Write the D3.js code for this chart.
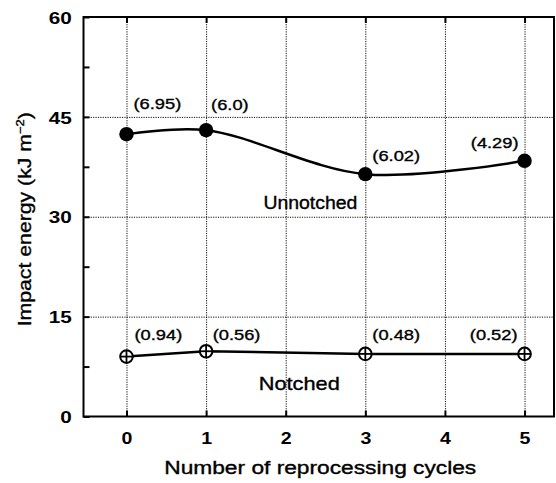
<!DOCTYPE html>
<html>
<head>
<meta charset="utf-8">
<script src="https://cdn.jsdelivr.net/npm/d3@7"></script>
<style>
  body { margin: 0; background: #fff; }
  svg { display: block; }
  text { font-family: "Liberation Sans", Arial, sans-serif; fill: #000; }
  text.reg { stroke: #000; stroke-width: 0.35px; }
</style>
</head>
<body>
<div id="chart"></div>
<script>
// data
const cycles      = [0, 1, 3, 5];
const unnotched   = [42.4, 43.0, 36.4, 38.4];
const notched     = [9.0, 9.8, 9.4, 9.4];
const unnotchedSD = ['(6.95)', '(6.0)', '(6.02)', '(4.29)'];
const notchedSD   = ['(0.94)', '(0.56)', '(0.48)', '(0.52)'];
const xTicks      = [0, 1, 2, 3, 4, 5];
const yTicks      = [0, 15, 30, 45, 60];
const yMinor      = [7.5, 22.5, 37.5, 52.5];
const yGrid       = [15, 30, 45];
const seriesNames = ['Unnotched', 'Notched'];

// layout
const W = 556, H = 483;
const L = 83.5, R = 554, T = 17, B = 416.5;

// label placement (px offsets from the point, anchor)
const unLabelPos = [[7, -25, 'start'], [5, -20.5, 'start'], [7, -13.5, 'start'], [-6, -12.5, 'end']];
const noLabelPos = [[8, 'start'], [6.6, 'start'], [7, 'start'], [-7, 'end']];
// series name placement in data units, target width, font size
const namePos = [[2.31, 31.1, 94, 17.5], [2.17, 4.0, 81, 18.5]];

const x = d3.scaleLinear().domain([-0.54, 5.37]).range([L, R]);
const y = d3.scaleLinear().domain([0, 60]).range([B, T]);

const svg = d3.select('#chart').append('svg')
  .attr('width', W).attr('height', H);

function stretch(sel, k) {
  sel.each(function () {
    const w = this.getComputedTextLength();
    d3.select(this).attr('textLength', w * k).attr('lengthAdjust', 'spacingAndGlyphs');
  });
}

// dotted grid
const dotted = g => g.selectAll('.tick line')
  .attr('stroke', '#111').attr('stroke-width', 1).attr('stroke-dasharray', '1.2,1.2');

svg.append('g')
  .attr('transform', `translate(0,${B})`)
  .call(d3.axisBottom(x).tickValues(xTicks).tickSize(-(B - T)).tickFormat(''))
  .call(g => g.select('.domain').remove())
  .call(dotted);

svg.append('g')
  .attr('transform', `translate(${L},0)`)
  .call(d3.axisLeft(y).tickValues(yGrid).tickSize(-(R - L)).tickFormat(''))
  .call(g => g.select('.domain').remove())
  .call(dotted);

// series lines
const pts = vals => cycles.map((c, i) => [x(c), y(vals[i])]);

svg.append('path')
  .attr('d', d3.line().curve(d3.curveCatmullRom.alpha(0.5))(pts(unnotched)))
  .attr('fill', 'none').attr('stroke', '#000').attr('stroke-width', 2.5);

svg.append('path')
  .attr('d', d3.line()(pts(notched)))
  .attr('fill', 'none').attr('stroke', '#000').attr('stroke-width', 2.5);

// markers
svg.append('g').selectAll('circle')
  .data(cycles)
  .join('circle')
  .attr('cx', d => x(d))
  .attr('cy', (d, i) => y(unnotched[i]))
  .attr('r', 7.2)
  .attr('fill', '#000');

const nm = svg.append('g').selectAll('g')
  .data(cycles)
  .join('g')
  .attr('transform', (d, i) => `translate(${x(d)},${y(notched[i])})`);
const r = 6.3;
nm.append('circle').attr('r', r).attr('fill', '#fff').attr('stroke', '#000').attr('stroke-width', 2);
nm.append('line').attr('x1', -r).attr('x2', r).attr('stroke', '#000').attr('stroke-width', 1.8);
nm.append('line').attr('y1', -r).attr('y2', r).attr('stroke', '#000').attr('stroke-width', 1.8);

// frame
svg.append('rect')
  .attr('x', L).attr('y', T).attr('width', R - L).attr('height', B - T)
  .attr('fill', 'none').attr('stroke', '#000').attr('stroke-width', 2);

// ticks
const solidTicks = g => {
  g.select('.domain').remove();
  g.selectAll('.tick line').attr('stroke', '#000').attr('stroke-width', 2);
};

const xAxis = svg.append('g')
  .attr('transform', `translate(0,${B})`)
  .call(d3.axisBottom(x).tickValues(xTicks).tickFormat(d3.format('d')).tickSizeInner(-6).tickSizeOuter(0))
  .call(solidTicks);
xAxis.selectAll('text')
  .attr('y', 27.5).attr('dy', 0)
  .style('font-size', '17px').style('font-weight', 'bold')
  .call(stretch, 1.15);

svg.append('g')
  .attr('transform', `translate(0,${T})`)
  .call(d3.axisTop(x).tickValues(xTicks).tickSizeInner(-6).tickSizeOuter(0).tickFormat(''))
  .call(solidTicks);

const yAxis = svg.append('g')
  .attr('transform', `translate(${L},0)`)
  .call(d3.axisLeft(y).tickValues(yTicks).tickFormat(d3.format('d')).tickSizeInner(-6).tickSizeOuter(0))
  .call(solidTicks);
yAxis.selectAll('text')
  .attr('x', -11.8).attr('dy', '0.36em')
  .style('font-size', '17px').style('font-weight', 'bold')
  .call(stretch, 1.22);

svg.append('g')
  .attr('transform', `translate(${L},0)`)
  .call(d3.axisLeft(y).tickValues(yMinor).tickSizeInner(-6).tickSizeOuter(0).tickFormat(''))
  .call(solidTicks);

// value labels (standard deviations)
svg.append('g').selectAll('text')
  .data(unnotchedSD)
  .join('text')
  .attr('class', 'reg')
  .attr('x', (d, i) => x(cycles[i]) + unLabelPos[i][0])
  .attr('y', (d, i) => y(unnotched[i]) + unLabelPos[i][1])
  .attr('text-anchor', (d, i) => unLabelPos[i][2])
  .style('font-size', '14.5px')
  .text(d => d)
  .call(stretch, 1.26);

const noLabelY = y(d3.max(notched) + 1.7);
svg.append('g').selectAll('text')
  .data(notchedSD)
  .join('text')
  .attr('class', 'reg')
  .attr('x', (d, i) => x(cycles[i]) + noLabelPos[i][0])
  .attr('y', noLabelY)
  .attr('text-anchor', (d, i) => noLabelPos[i][1])
  .style('font-size', '14.5px')
  .text(d => d)
  .call(stretch, 1.26);

// series names
svg.append('g').selectAll('text')
  .data(seriesNames)
  .join('text')
  .attr('class', 'reg')
  .attr('x', (d, i) => x(namePos[i][0]))
  .attr('y', (d, i) => y(namePos[i][1]))
  .attr('text-anchor', 'middle')
  .style('font-size', (d, i) => namePos[i][3] + 'px')
  .attr('textLength', (d, i) => namePos[i][2])
  .attr('lengthAdjust', 'spacingAndGlyphs')
  .text(d => d);

// axis titles
svg.append('text')
  .attr('class', 'reg')
  .attr('x', (L + R) / 2 + 1.5)
  .attr('y', 474)
  .attr('text-anchor', 'middle')
  .style('font-size', '18px')
  .attr('textLength', 312)
  .attr('lengthAdjust', 'spacingAndGlyphs')
  .text('Number of reprocessing cycles');

const yTitle = svg.append('text')
  .attr('class', 'reg')
  .attr('transform', `translate(31,${(T + B) / 2 + 2.5}) rotate(-90) scale(1.18,1)`)
  .attr('text-anchor', 'middle')
  .style('font-size', '18px');
yTitle.append('tspan').text('Impact energy (kJ m');
yTitle.append('tspan').attr('dy', -7).style('font-size', '11px').text('\u22122');
yTitle.append('tspan').attr('dy', 7).text(')');
</script>
</body>
</html>
